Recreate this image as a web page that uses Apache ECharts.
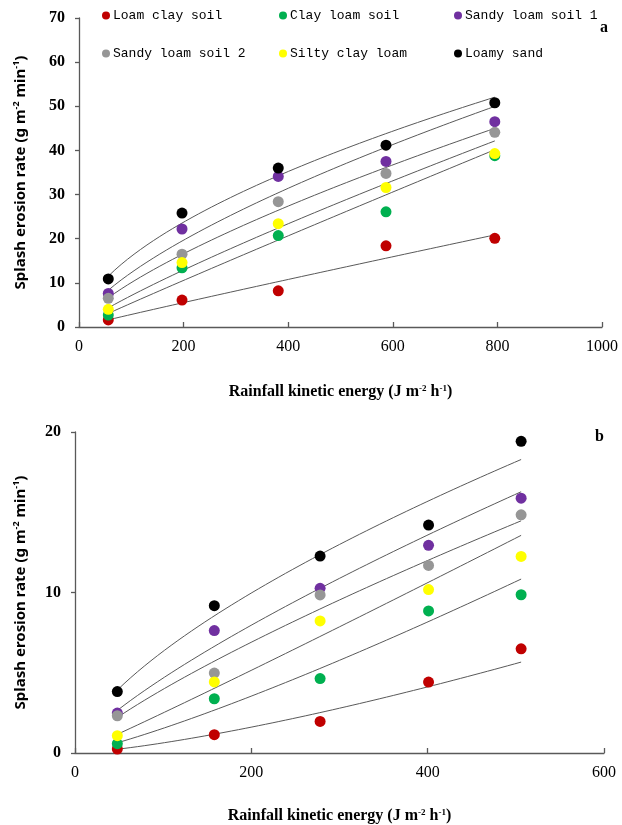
<!DOCTYPE html>
<html>
<head>
<meta charset="utf-8">
<script src="https://cdn.jsdelivr.net/npm/echarts@6/dist/echarts.min.js"></script>
<style>
  html, body { margin: 0; padding: 0; background: #fff; }
  #chart { width: 622px; height: 825px; }
</style>
</head>
<body>
<div id="chart"></div>
<script>
// Soil types and marker colours
const soils = ['Loam clay soil', 'Clay loam soil', 'Sandy loam soil 1', 'Sandy loam soil 2', 'Silty clay loam', 'Loamy sand'];
const soilColors = ['#C00000', '#00B050', '#7030A0', '#969696', '#FFFF00', '#000000'];

// Panel a: rainfall kinetic energy (J m-2 h-1) and splash erosion rate (g m-2 min-1)
const energyA = [56, 197, 381, 587, 795];
const loamClayA = [1.6, 6.1, 8.2, 18.4, 20.1];
const clayLoamA = [2.7, 13.4, 20.7, 26.1, 38.8];
const sandyLoam1A = [7.6, 22.2, 34.1, 37.5, 46.5];
const sandyLoam2A = [6.5, 16.5, 28.4, 34.8, 44.1];
const siltyClayA = [4.0, 14.6, 23.4, 31.6, 39.3];
const loamySandA = [10.9, 25.8, 36.0, 41.2, 50.8];

// Panel b
const energyB = [48, 158, 278, 401, 506];
const loamClayB = [0.25, 1.14, 1.97, 4.42, 6.49];
const clayLoamB = [0.58, 3.38, 4.64, 8.85, 9.86];
const sandyLoam1B = [2.49, 7.63, 10.26, 12.94, 15.88];
const sandyLoam2B = [2.32, 4.98, 9.85, 11.69, 14.84];
const siltyClayB = [1.08, 4.43, 8.23, 10.18, 12.25];
const loamySandB = [3.83, 9.18, 12.27, 14.2, 19.42];

// Axis ticks
const xTicksA = [0, 200, 400, 600, 800, 1000];
const yTicksA = [0, 10, 20, 30, 40, 50, 60, 70];
const xTicksB = [0, 200, 400, 600];
const yTicksB = [0, 10, 20];

const seriesA = [loamClayA, clayLoamA, sandyLoam1A, sandyLoam2A, siltyClayA, loamySandA];
const seriesB = [loamClayB, clayLoamB, sandyLoam1B, sandyLoam2B, siltyClayB, loamySandB];

// Least-squares power trend y = a * x^b (log-log regression)
function powerFit(xs, ys) {
  const n = xs.length;
  const lx = xs.map(Math.log), ly = ys.map(Math.log);
  const mx = lx.reduce((s, v) => s + v, 0) / n;
  const my = ly.reduce((s, v) => s + v, 0) / n;
  let sxy = 0, sxx = 0;
  for (let i = 0; i < n; i++) { sxy += (lx[i] - mx) * (ly[i] - my); sxx += (lx[i] - mx) ** 2; }
  const b = sxy / sxx;
  const a = Math.exp(my - b * mx);
  const pts = [];
  const x0 = xs[0], x1 = xs[n - 1], steps = 60;
  for (let i = 0; i <= steps; i++) {
    const x = x0 + (x1 - x0) * i / steps;
    pts.push([x, a * Math.pow(x, b)]);
  }
  return pts;
}

const chart = echarts.init(document.getElementById('chart'), null, { renderer: 'canvas' });

const xName = 'Rainfall kinetic energy (J m{sup|-2} h{sup|-1})';
const yName = 'Splash erosion rate (g m{sup|-2} min{sup|-1})';

const xNameStyle = {
  fontFamily: 'Liberation Serif', fontWeight: 'bold', fontSize: 16, color: '#000',
  rich: { sup: { fontFamily: 'Liberation Serif', fontWeight: 'bold', color: '#000', fontSize: 9, verticalAlign: 'top', lineHeight: 16 } }
};
const yNameStyle = {
  fontFamily: 'Noto Sans', fontWeight: 'bold', fontSize: 15, color: '#000',
  rich: { sup: { fontFamily: 'Noto Sans', fontWeight: 'bold', color: '#000', fontSize: 9, verticalAlign: 'top', lineHeight: 17 } }
};
const axisLineStyle = { color: '#595959', width: 1.3 };

function xAxis(gridIndex, ticks, nameGap) {
  return {
    type: 'value', gridIndex, min: ticks[0], max: ticks[ticks.length - 1], interval: ticks[1] - ticks[0],
    name: xName, nameLocation: 'middle', nameGap, nameTextStyle: xNameStyle,
    axisLine: { show: true, lineStyle: axisLineStyle },
    axisTick: { show: true, inside: true, length: 5, lineStyle: axisLineStyle },
    axisLabel: { fontFamily: 'Liberation Serif', fontSize: 16, color: '#000', margin: 12, formatter: v => String(v) },
    splitLine: { show: false }
  };
}
function yAxis(gridIndex, ticks, nameGap) {
  return {
    type: 'value', gridIndex, min: ticks[0], max: ticks[ticks.length - 1], interval: ticks[1] - ticks[0],
    name: yName, nameLocation: 'middle', nameGap, nameTextStyle: yNameStyle,
    axisLine: { show: true, lineStyle: axisLineStyle },
    axisTick: { show: true, inside: false, length: 4, lineStyle: axisLineStyle },
    axisLabel: { fontFamily: 'Liberation Serif', fontWeight: 'bold', fontSize: 16, color: '#000', margin: 14, formatter: v => String(v) },
    splitLine: { show: false }
  };
}

const series = [];
// fitted curves first so the dots sit on top
[seriesA, seriesB].forEach((group, gi) => {
  const xs = gi === 0 ? energyA : energyB;
  group.forEach(ys => {
    series.push({
      type: 'line', xAxisIndex: gi, yAxisIndex: gi, data: powerFit(xs, ys),
      showSymbol: false, silent: true, z: 1,
      lineStyle: { color: '#595959', width: 1 }
    });
  });
});
[seriesA, seriesB].forEach((group, gi) => {
  const xs = gi === 0 ? energyA : energyB;
  group.forEach((ys, si) => {
    series.push({
      name: soils[si], type: 'scatter', xAxisIndex: gi, yAxisIndex: gi, z: 2,
      symbol: 'circle', symbolSize: 11,
      itemStyle: { color: soilColors[si], opacity: 1 },
      data: xs.map((x, i) => [x, ys[i]])
    });
  });
});

// legend placed as a 3 x 2 block inside panel a
const legendCols = [102, 279, 454];
const legendRows = [9, 47];
const legends = soils.map((s, i) => ({
  data: [s], left: legendCols[i % 3], top: legendRows[Math.floor(i / 3)],
  padding: 0, icon: 'circle', itemWidth: 8, itemHeight: 8, itemGap: 0,
  selectedMode: false,
  itemStyle: { opacity: 1 },
  textStyle: { fontFamily: 'Liberation Mono', fontSize: 13, color: '#000', padding: [0, 0, 0, -2] }
}));

chart.setOption({
  animation: false,
  backgroundColor: '#fff',
  grid: [
    { left: 79, top: 18, width: 523, height: 309 },
    { left: 75, top: 432, width: 529, height: 321 }
  ],
  xAxis: [xAxis(0, xTicksA, 57), xAxis(1, xTicksB, 55)],
  yAxis: [yAxis(0, yTicksA, 50), yAxis(1, yTicksB, 46)],
  legend: legends,
  graphic: [
    { type: 'text', left: 600, top: 20, style: { text: 'a', fontFamily: 'Liberation Serif', fontWeight: 'bold', fontSize: 16, fill: '#000' } },
    { type: 'text', left: 595, top: 429, style: { text: 'b', fontFamily: 'Liberation Serif', fontWeight: 'bold', fontSize: 16, fill: '#000' } }
  ],
  series
});
</script>
</body>
</html>
